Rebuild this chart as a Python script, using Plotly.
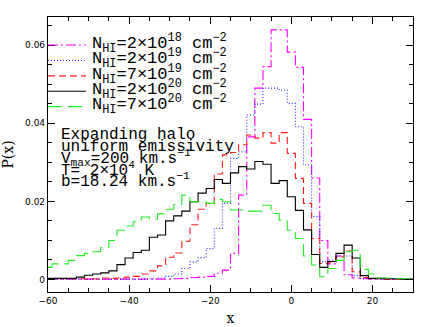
import plotly.graph_objects as go

# bin centres (width 2)
x_centers = list(range(-60, 32, 2))

# N_HI = 2e18
p_2e18 = [0.0001]*16 + [0.0002, 0.0003, 0.0005, 0.0006, 0.0008, 0.0016, 0.0024, 0.0067,
          0.0216, 0.0365, 0.0490, 0.0545, 0.0639, 0.0639, 0.0582, 0.0543, 0.0410, 0.0260,
          0.0100, 0.0040, 0.0060, 0.0012, 0.0004, 0.0002, 0.0001, 0.0001, 0.0, 0.0, 0.0, 0.0]
# N_HI = 2e19
p_2e19 = [0.0001]*13 + [0.0002, 0.0004, 0.0008, 0.0014, 0.0028, 0.0045, 0.0056, 0.0079,
          0.0131, 0.0195, 0.0310, 0.0327, 0.0421, 0.0449, 0.0490, 0.0490, 0.0485, 0.0451,
          0.0391, 0.0293, 0.0161, 0.0045, 0.0050, 0.0060, 0.0060, 0.0010, 0.0003, 0.0002,
          0.0001, 0.0001, 0.0, 0.0, 0.0]
# N_HI = 7e19
p_7e19 = [0.0002]*7 + [0.0004, 0.0003, 0.0004, 0.0006, 0.0008, 0.0014, 0.0022, 0.0035,
          0.0057, 0.0068, 0.0098, 0.0140, 0.0180, 0.0195, 0.0270, 0.0319, 0.0325, 0.0345,
          0.0370, 0.0362, 0.0376, 0.0349, 0.0376, 0.0323, 0.0259, 0.0195, 0.0105, 0.0041,
          0.0044, 0.0058, 0.0073, 0.0020, 0.0005, 0.0002, 0.0002, 0.0001, 0.0001, 0.0, 0.0]
# N_HI = 2e20
p_2e20 = [0.0003, 0.0003, 0.0003, 0.0003, 0.0006, 0.0011, 0.0014, 0.0017, 0.0022, 0.0038,
          0.0055, 0.0069, 0.0075, 0.0108, 0.0114, 0.0150, 0.0163, 0.0175, 0.0199, 0.0221,
          0.0233, 0.0256, 0.0246, 0.0273, 0.0289, 0.0283, 0.0302, 0.0295, 0.0246, 0.0253,
          0.0212, 0.0177, 0.0127, 0.0064, 0.0031, 0.0046, 0.0067, 0.0088, 0.0055, 0.0010,
          0.0003, 0.0003, 0.0002, 0.0002, 0.0001, 0.0001]
# N_HI = 7e20
p_7e20 = [0.0031, 0.0040, 0.0040, 0.0049, 0.0061, 0.0067, 0.0071, 0.0082, 0.0100, 0.0126,
          0.0137, 0.0148, 0.0160, 0.0155, 0.0168, 0.0180, 0.0192, 0.0216, 0.0199, 0.0199,
          0.0195, 0.0205, 0.0199, 0.0178, 0.0178, 0.0175, 0.0175, 0.0190, 0.0169, 0.0152,
          0.0126, 0.0105, 0.0060, 0.0037, 0.0007, 0.0028, 0.0049, 0.0071, 0.0075, 0.0026,
          0.0014, 0.0004, 0.0004, 0.0002, 0.0002, 0.0001]

legend_labels = [
    "N<sub>HI</sub>=2×10<sup>18</sup> cm<sup>−2</sup>",
    "N<sub>HI</sub>=2×10<sup>19</sup> cm<sup>−2</sup>",
    "N<sub>HI</sub>=7×10<sup>19</sup> cm<sup>−2</sup>",
    "N<sub>HI</sub>=2×10<sup>20</sup> cm<sup>−2</sup>",
    "N<sub>HI</sub>=7×10<sup>20</sup> cm<sup>−2</sup>",
]
colors = ["#ff00ff", "#2a2aff", "#ff1a1a", "#000000", "#22ee22"]
dashes = ["10px,3px,2px,3px", "1px,2px", "7px,4px", "solid", "14px,6px"]
values = [p_2e18, p_2e19, p_7e19, p_2e20, p_7e20]

txtfont = "Liberation Mono"
serif = "DejaVu Serif"
fig = go.Figure()
for name, vals, col, dash in zip(legend_labels, values, colors, dashes):
    fig.add_trace(go.Scatter(x=x_centers, y=vals, mode="lines", name=name, showlegend=False,
                             line=dict(color=col, dash=dash, width=1.1, shape="hvh")))

# hand-placed key (rows ~15 px apart, as in the reference)
key_y = [0.898, 0.842, 0.786, 0.730, 0.674]
for name, col, dash, yy in zip(legend_labels, colors, dashes, key_y):
    fig.add_shape(type="line", xref="paper", yref="paper", x0=0.0, x1=0.104, y0=yy, y1=yy,
                  line=dict(color=col, dash=dash, width=1.1))
    fig.add_annotation(text=name, xref="paper", yref="paper", x=0.116, y=yy + 0.006,
                       xanchor="left", yanchor="middle", align="left", showarrow=False,
                       font=dict(family=txtfont, size=17, color="black"))

axis_common = dict(showline=True, linecolor="black", linewidth=1.2, mirror="ticks",
                   ticks="inside", ticklen=7, tickcolor="black", showgrid=False,
                   zeroline=False, automargin=False,
                   tickfont=dict(family="DejaVu Sans", size=9, color="black"))

fig.update_xaxes(range=[-60, 30], tickvals=[-60, -40, -20, 0, 20],
                 minor=dict(dtick=5, tick0=0, ticks="inside", ticklen=4, tickcolor="black"),
                 title=dict(text="x", font=dict(family=serif, size=14, color="black"), standoff=8),
                 **axis_common)
fig.update_yaxes(range=[-0.0032, 0.0672], tickvals=[0, 0.02, 0.04, 0.06],
                 ticktext=["0", "0.02", "0.04", "0.06"],
                 minor=dict(dtick=0.005, tick0=0, ticks="inside", ticklen=4, tickcolor="black"),
                 title=dict(text="P(x)", font=dict(family=serif, size=14, color="black"), standoff=9),
                 **axis_common)

lines = ["Expanding halo", "uniform emissivity", "V<sub>max</sub>=200 km.s<sup>−1</sup>",
         "T= 2×10<sup>4</sup> K", "b=18.24 km.s<sup>−1</sup>"]
ys = [0.571, 0.529, 0.489, 0.447, 0.404]
for t, yy in zip(lines, ys):
    fig.add_annotation(text=t, xref="paper", yref="paper", x=0.030, y=yy,
                       xanchor="left", yanchor="middle", align="left", showarrow=False,
                       font=dict(family=txtfont, size=16, color="black"))

fig.update_layout(
    width=436, height=327, margin=dict(l=48, r=23, t=17, b=35),
    plot_bgcolor="white", paper_bgcolor="white", showlegend=False,
)

fig.write_html("out.html", config={"displayModeBar": False},
               post_script="document.body.style.margin='0';")
